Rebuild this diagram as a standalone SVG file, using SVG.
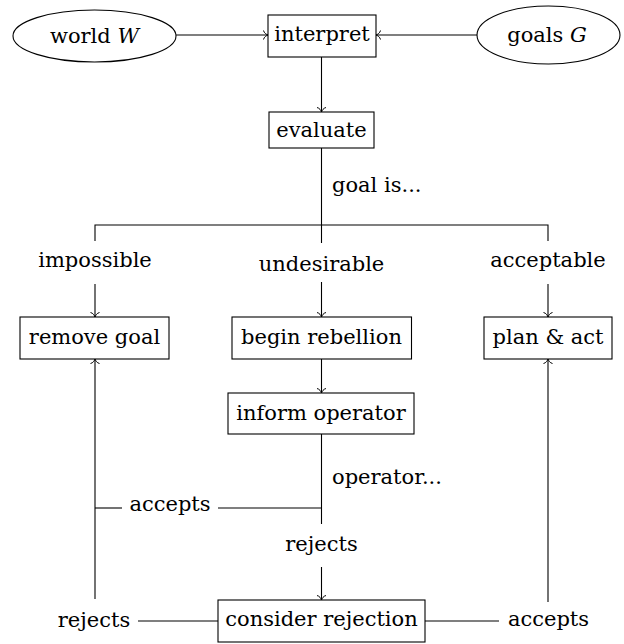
<svg xmlns="http://www.w3.org/2000/svg" width="624" height="644" viewBox="0 0 624 644">
<style>
text{font-family:"DejaVu Serif","Liberation Serif",serif;font-size:21px;fill:#000;text-anchor:middle}
.n{fill:#fff;stroke:#000;stroke-width:1.1}
.c{fill:none;stroke:#000;stroke-width:1.1}
.a{marker-end:url(#to)}
.lab{text-anchor:start}
</style>
<defs>
<marker id="to" markerUnits="userSpaceOnUse" viewBox="-6 -6 8 12" markerWidth="8" markerHeight="12" refX="0" refY="0" orient="auto" overflow="visible">
<path d="M-4.5,-4.5 C-4,-2 -1.5,-0.5 0,0 C-1.5,0.5 -4,2 -4.5,4.5" fill="none" stroke="#000" stroke-width="1"/>
</marker>
</defs>
<g id="connectors">
<path class="c a" d="M176,35 H268"/>
<path class="c a" d="M477,35 H376"/>
<path class="c a" d="M321.5,57 V112"/>
<path class="c" d="M321.5,148 V243"/>
<path class="c" d="M95,241 V225 H548 V241"/>
<path class="c a" d="M95,284 V317"/>
<path class="c a" d="M321.5,282 V317"/>
<path class="c a" d="M548,284 V317"/>
<path class="c a" d="M321.5,359 V393"/>
<path class="c" d="M321.5,434 V524"/>
<path class="c" d="M321.5,508 H218"/>
<path class="c" d="M122,508 H95"/>
<path class="c a" d="M321.5,567 V600"/>
<path class="c" d="M218,621 H138"/>
<path class="c a" d="M95,599 V359"/>
<path class="c" d="M425,621 H499"/>
<path class="c a" d="M548,602 V359"/>
</g>
<g id="labels">
<text class="lab" x="332" y="192">goal is...</text>
<text x="95" y="267">impossible</text>
<text x="321.5" y="271">undesirable</text>
<text x="548" y="267">acceptable</text>
<text class="lab" x="332" y="484">operator...</text>
<text x="170" y="511">accepts</text>
<text x="321.5" y="551">rejects</text>
<text x="94" y="627">rejects</text>
<text x="548.5" y="626">accepts</text>
</g>
<g id="world">
<ellipse class="n" cx="94.5" cy="36" rx="81.5" ry="26"/>
<text x="94.5" y="43">world <tspan font-style="italic">W</tspan></text>
</g>
<g id="goals">
<ellipse class="n" cx="548.5" cy="35" rx="71.5" ry="29"/>
<text x="547" y="42">goals <tspan font-style="italic">G</tspan></text>
</g>
<g id="interpret">
<rect class="n" x="268" y="15" width="108" height="42"/>
<text x="322" y="41">interpret</text>
</g>
<g id="evaluate">
<rect class="n" x="269" y="112" width="105" height="36"/>
<text x="321.5" y="137">evaluate</text>
</g>
<g id="remove">
<rect class="n" x="20" y="317" width="149" height="42"/>
<text x="94.5" y="344">remove goal</text>
</g>
<g id="rebellion">
<rect class="n" x="232" y="317" width="179.5" height="42"/>
<text x="321.5" y="344">begin rebellion</text>
</g>
<g id="plan">
<rect class="n" x="484" y="317" width="128" height="42"/>
<text x="548" y="344">plan &amp; act</text>
</g>
<g id="inform">
<rect class="n" x="228" y="393" width="186" height="41"/>
<text x="321" y="420">inform operator</text>
</g>
<g id="consider">
<rect class="n" x="218" y="600" width="207" height="42"/>
<text x="321.5" y="626">consider rejection</text>
</g>
</svg>
